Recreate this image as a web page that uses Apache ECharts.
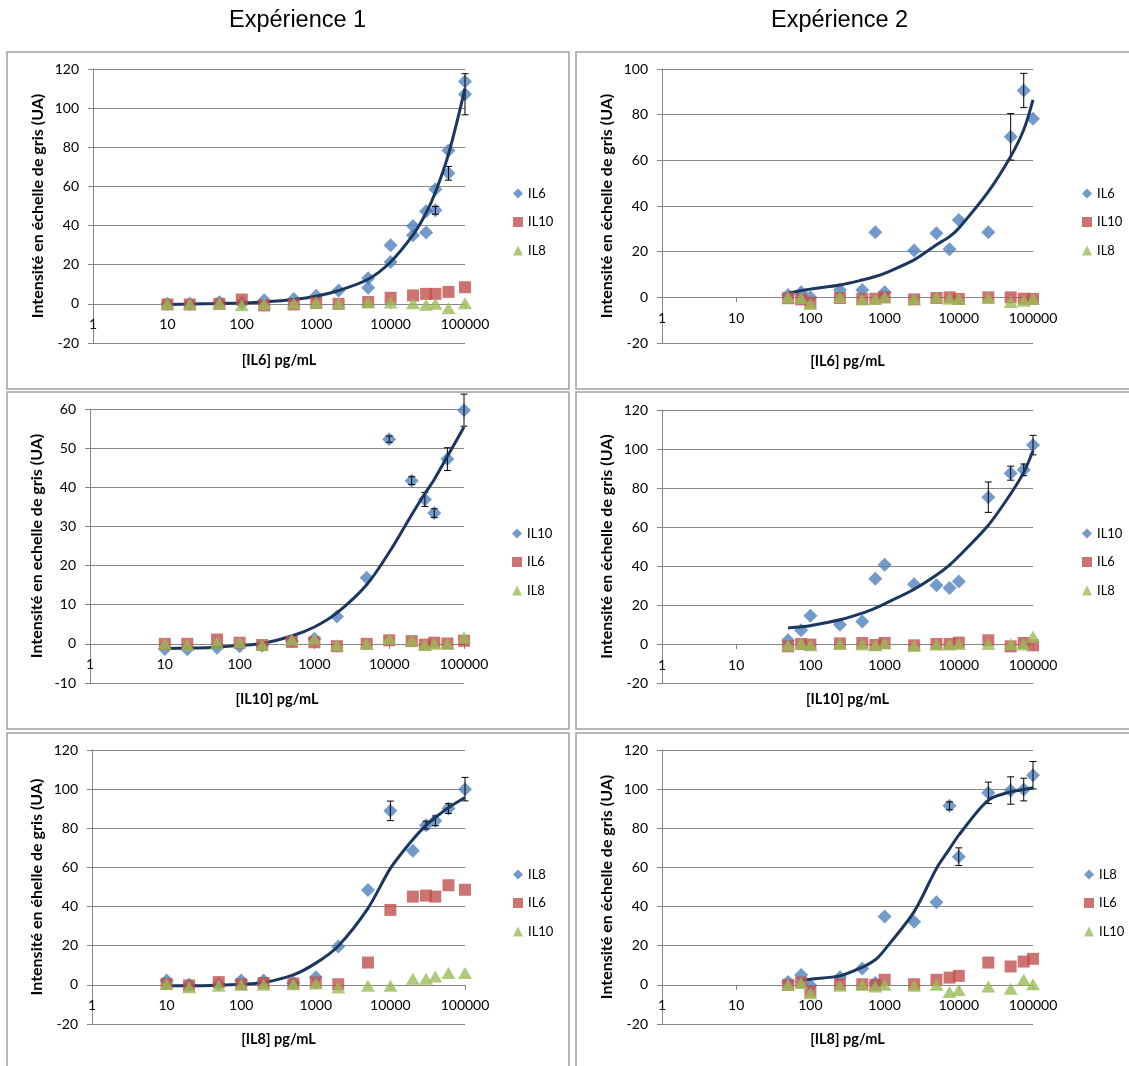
<!DOCTYPE html>
<html>
<head>
<meta charset="utf-8">
<script src="https://cdn.jsdelivr.net/npm/echarts@6/dist/echarts.min.js"></script>
<style>
  html, body { margin: 0; padding: 0; background: #fff; }
  #chart { width: 1129px; height: 1066px; }
</style>
</head>
<body>
<div id="chart"></div>
<script>
// valeurs (concentrations en pg/mL)
const xTickLabels = ['1', '10', '100', '1000', '10000', '100000'];
const conc1 = [10, 20, 50, 100, 200, 500, 1000, 2000, 5000, 10000, 20000, 30000, 40000, 60000, 100000];
const conc2 = [50, 75, 100, 250, 500, 750, 1000, 2500, 5000, 7500, 10000, 25000, 50000, 75000, 100000];

// Expérience 1 - IL6
const e1IL6Names = ['IL6', 'IL10', 'IL8'];
const e1IL6Blue = [0, 0, 0.8, 0.5, 1.9, 2.5, 4.2, 6.8, 13.1, 29.9, 39.8, 47.3, 58.5, 78.4, 113.6];
const e1IL6BlueRep = [null, null, null, null, null, null, null, null, 8.2, 21.4, 35.0, 36.4, 47.8, 66.7, 107.1];
const e1IL6Red = [-0.3, -0.3, 0, 2.2, -0.8, -0.3, 0.5, 0, 1.0, 3.1, 4.3, 5.1, 5.1, 6.1, 8.5];
const e1IL6Green = [0, 0, 0.3, -0.7, 0, 0.3, 0.7, 0.3, 0.7, 0.7, 0.3, -0.5, 0, -2.2, 0.3];
const e1IL6Fit = [-0.3, -0.1, 0.2, 0.5, 1.0, 2.2, 3.9, 6.8, 12.6, 21.4, 35.2, 46.4, 57, 76.5, 110];
const e1IL6Err = [[40000, 47.8, 2], [60000, 66.7, 3.5], [100000, 107.1, 10.5]];

// Expérience 2 - IL6
const e2IL6Names = ['IL6', 'IL10', 'IL8'];
const e2IL6Blue = [1, 2.2, 0, 3.2, 3.2, 28.5, 2.2, 20.5, 28.1, 21.1, 33.9, 28.5, 70.3, 90.6, 78.2];
const e2IL6Red = [-0.4, -0.9, -2.3, -0.3, -0.7, -0.6, 0, -0.9, -0.3, 0, -0.7, 0, 0, -0.6, -0.7];
const e2IL6Green = [0, -0.3, -2.9, 0, -0.9, -0.6, 0, -0.6, -0.1, -0.6, -0.7, -0.3, -2.0, -1.5, -0.6];
const e2IL6Fit = [1.8, 2.9, 3.6, 5.4, 7.6, 9.1, 10.5, 16.4, 23, 26.6, 30.3, 46.3, 61.7, 73.4, 86.5];
const e2IL6Err = [[50000, 70.3, 10.2], [75000, 90.6, 7.5]];

// Expérience 1 - IL10
const e1IL10Names = ['IL10', 'IL6', 'IL8'];
const e1IL10Blue = [-1.3, -1.4, -1.0, -0.6, -0.5, 0.7, 1.3, 7.0, 16.9, 52.3, 41.7, 36.9, 33.4, 47.2, 59.7];
const e1IL10Red = [0, 0, 1.1, 0.3, -0.3, 0.5, 0.4, -0.6, 0, 0.9, 0.7, -0.2, 0.3, 0.1, 0.8];
const e1IL10Green = [0, -0.3, 0.2, 0.4, -0.2, 1.1, 1.3, -0.3, 0, 1.3, 0.8, -0.3, 0, 0, 1.7];
const e1IL10Fit = [-1.2, -1.1, -0.85, -0.4, 0.1, 2.0, 4.3, 7.9, 15.1, 23.4, 33.0, 38.4, 42.0, 47.9, 55.4];
const e1IL10Err = [[10000, 52.3, 0.8], [20000, 41.7, 1.0], [30000, 36.9, 1.8], [40000, 33.4, 1.1], [60000, 47.2, 2.9], [100000, 59.7, 4.1]];

// Expérience 2 - IL10
const e2IL10Names = ['IL10', 'IL6', 'IL8'];
const e2IL10Blue = [1.9, 7.0, 14.5, 9.9, 11.6, 33.5, 40.6, 30.6, 30.1, 28.7, 32.0, 75.3, 87.6, 89.3, 102];
const e2IL10Red = [-1.2, 0, -0.3, 0.3, 0.5, -0.5, 0.5, -0.7, 0, 0, 0.7, 1.9, -1.2, 0.5, -0.7];
const e2IL10Green = [-0.7, 0.3, -0.7, 0, -0.3, -0.7, 0.3, -0.9, -0.3, -0.3, 0, 0, 0, -0.3, 3.9];
const e2IL10Fit = [8.2, 8.8, 9.4, 12.4, 15.8, 18.4, 20.6, 28.1, 35.4, 40.5, 45, 60.9, 77, 88, 99.1];
const e2IL10Err = [[25000, 75.3, 7.8], [50000, 87.6, 3.6], [75000, 89.3, 3.0], [100000, 102, 5.0]];

// Expérience 1 - IL8
const e1IL8Names = ['IL8', 'IL6', 'IL10'];
const e1IL8Blue = [2.2, 0, 0.3, 2.2, 2.2, 0.9, 3.9, 19.6, 48.5, 88.9, 68.5, 81.6, 83.8, 90.1, 100];
const e1IL8Red = [0.5, -0.3, 1.4, 0.3, 0.9, 0.7, 1.2, 0.3, 11.4, 38.3, 45.1, 45.6, 45.1, 50.9, 48.6];
const e1IL8Green = [0.5, -1.2, -0.5, 0, 0, 0.3, 0.7, -1.4, -0.5, -0.5, 3.1, 3.1, 4.3, 6.0, 6.0];
const e1IL8Fit = [-0.5, -0.5, -0.2, 0.3, 1.2, 5.1, 11.1, 19.9, 39.1, 59.5, 74.3, 81.5, 85.5, 90.5, 95.7];
const e1IL8Err = [[10000, 88.9, 5], [30000, 81.6, 2], [40000, 83.8, 2.5], [60000, 90.1, 2.5], [100000, 100, 6]];

// Expérience 2 - IL8
const e2IL8Names = ['IL8', 'IL6', 'IL10'];
const e2IL8Blue = [1.4, 5.1, -0.3, 3.9, 8.3, 0.9, 34.9, 32.3, 42.2, 91.5, 65.5, 98.1, 99.3, 99.8, 107.1];
const e2IL8Red = [0, 1.2, -3.4, 0.3, 0.3, 0, 2.6, 0.3, 2.6, 3.7, 4.6, 11.4, 9.4, 11.9, 13.3];
const e2IL8Green = [0, 0.9, -4.3, -0.5, 0, -0.9, 0, -0.5, 0, -3.7, -2.6, -0.9, -2.0, 2.6, 0.3];
const e2IL8Fit = [null, 2.2, 2.9, 4.6, 9.0, 12.8, 17.9, 37.4, 59.5, 69.5, 76.5, 94.4, 98.6, 99.8, 100.7];
const e2IL8Err = [[7500, 91.5, 2], [10000, 65.5, 4.5], [25000, 98.1, 5.5], [50000, 99.3, 7], [75000, 99.8, 5.8], [100000, 107.1, 7]];

const panels = [
  { conc: conc1, names: e1IL6Names, blue: e1IL6Blue, blueRep: e1IL6BlueRep, red: e1IL6Red, green: e1IL6Green, fit: e1IL6Fit, err: e1IL6Err,
    yRange: [-20, 120, 20], yTitle: 'Intensité en échelle de gris (UA)', xTitle: '[IL6] pg/mL' },
  { conc: conc2, names: e2IL6Names, blue: e2IL6Blue, red: e2IL6Red, green: e2IL6Green, fit: e2IL6Fit, err: e2IL6Err,
    yRange: [-20, 100, 20], yTitle: 'Intensité en échelle de gris (UA)', xTitle: '[IL6] pg/mL' },
  { conc: conc1, names: e1IL10Names, blue: e1IL10Blue, red: e1IL10Red, green: e1IL10Green, fit: e1IL10Fit, err: e1IL10Err,
    yRange: [-10, 60, 10], yTitle: 'Intensité en echelle de gris (UA)', xTitle: '[IL10] pg/mL' },
  { conc: conc2, names: e2IL10Names, blue: e2IL10Blue, red: e2IL10Red, green: e2IL10Green, fit: e2IL10Fit, err: e2IL10Err,
    yRange: [-20, 120, 20], yTitle: 'Intensité en échelle de gris (UA)', xTitle: '[IL10] pg/mL' },
  { conc: conc1, names: e1IL8Names, blue: e1IL8Blue, red: e1IL8Red, green: e1IL8Green, fit: e1IL8Fit, err: e1IL8Err,
    yRange: [-20, 120, 20], yTitle: 'Intensité en éhelle de gris (UA)', xTitle: '[IL8] pg/mL' },
  { conc: conc2, names: e2IL8Names, blue: e2IL8Blue, red: e2IL8Red, green: e2IL8Green, fit: e2IL8Fit, err: e2IL8Err,
    yRange: [-20, 120, 20], yTitle: 'Intensité en échelle de gris (UA)', xTitle: '[IL8] pg/mL' }
];

// mise en page de chaque cadre
const layout = [
  { grid: { left: 93, top: 69, width: 372, height: 274 }, box: [7, 52, 562, 337], legend: [508, 182], xGap: 49, yGap: 47 },
  { grid: { left: 662, top: 69, width: 371, height: 274 }, box: [576, 52, 570, 337], legend: [1077, 182], xGap: 56, yGap: 47 },
  { grid: { left: 90, top: 409, width: 374, height: 274 }, box: [7, 392, 562, 337], legend: [507, 522], xGap: 48, yGap: 45 },
  { grid: { left: 662, top: 410, width: 371, height: 273 }, box: [576, 392, 570, 337], legend: [1077, 522], xGap: 48, yGap: 47 },
  { grid: { left: 92, top: 750, width: 373, height: 274 }, box: [7, 733, 562, 345], legend: [508, 863], xGap: 47, yGap: 47 },
  { grid: { left: 662, top: 750, width: 371, height: 274 }, box: [576, 733, 570, 345], legend: [1079, 863], xGap: 47, yGap: 47 }
];

const BLUE = '#4F81BD', RED = '#C0504D', GREEN = '#9BBB59', FIT = '#1B375E';
const FONT = 'Lato';

function pairs(xs, ys) {
  return xs.map((x, i) => [x, ys[i]]).filter(p => p[1] != null);
}

function renderErr(params, api) {
  const x = api.value(0), y = api.value(1), e = api.value(2);
  const top = api.coord([x, y + e]);
  const bot = api.coord([x, y - e]);
  const w = 3.5;
  const st = { stroke: '#000', lineWidth: 1 };
  return {
    type: 'group',
    children: [
      { type: 'line', shape: { x1: top[0], y1: top[1], x2: bot[0], y2: bot[1] }, style: st },
      { type: 'line', shape: { x1: top[0] - w, y1: top[1], x2: top[0] + w, y2: top[1] }, style: st },
      { type: 'line', shape: { x1: bot[0] - w, y1: bot[1], x2: bot[0] + w, y2: bot[1] }, style: st }
    ]
  };
}

const grids = [], xAxes = [], yAxes = [], legends = [], series = [], graphics = [];

panels.forEach((p, i) => {
  const L = layout[i];
  grids.push(L.grid);
  graphics.push({
    type: 'rect', shape: { x: L.box[0], y: L.box[1], width: L.box[2], height: L.box[3] },
    style: { fill: null, stroke: '#a0a0a0', lineWidth: 1.5 }, z: 0
  });
  // l'axe des x croise l'axe des y à 0 (comme dans Excel)
  const zeroOffset = -L.grid.height * (0 - p.yRange[0]) / (p.yRange[1] - p.yRange[0]);
  xAxes.push({
    type: 'log', logBase: 10, min: 1, max: 100000, gridIndex: i,
    position: 'bottom', offset: zeroOffset,
    name: p.xTitle, nameLocation: 'middle', nameGap: L.xGap,
    nameTextStyle: { fontFamily: FONT, fontWeight: 'bold', fontSize: 14.5, color: '#000' },
    axisLine: { onZero: false, lineStyle: { color: '#868686', width: 1 } },
    axisTick: { show: true, length: 5, lineStyle: { color: '#868686' } },
    axisLabel: {
      fontFamily: FONT, fontSize: 14, color: '#000', margin: 14,
      formatter: v => xTickLabels[Math.round(Math.log10(v))]
    },
    splitLine: { show: false },
    minorTick: { show: false }
  });
  yAxes.push({
    type: 'value', min: p.yRange[0], max: p.yRange[1], interval: p.yRange[2], gridIndex: i,
    name: p.yTitle, nameLocation: 'middle', nameGap: L.yGap,
    nameTextStyle: { fontFamily: FONT, fontWeight: 'bold', fontSize: 16, color: '#000' },
    axisLine: { show: true, onZero: false, lineStyle: { color: '#868686', width: 1 } },
    axisTick: { show: true, length: 5, lineStyle: { color: '#868686' } },
    axisLabel: { fontFamily: FONT, fontSize: 14, color: '#000', margin: 14 },
    splitLine: { show: true, lineStyle: { color: '#868686', width: 1 } }
  });
  legends.push({
    orient: 'vertical', left: L.legend[0], top: L.legend[1],
    itemWidth: 10, itemHeight: 10, itemGap: 15.5,
    textStyle: { fontFamily: FONT, fontSize: 13, color: '#000' },
    selectedMode: false,
    data: [
      { name: p.names[0], icon: 'diamond', itemStyle: { color: BLUE } },
      { name: p.names[1], icon: 'rect', itemStyle: { color: RED } },
      { name: p.names[2], icon: 'triangle', itemStyle: { color: GREEN } }
    ]
  });

  let blueData = pairs(p.conc, p.blue);
  if (p.blueRep) blueData = blueData.concat(pairs(p.conc, p.blueRep));

  series.push({
    type: 'scatter', name: p.names[0], xAxisIndex: i, yAxisIndex: i,
    symbol: 'diamond', symbolSize: 14, itemStyle: { color: BLUE }, z: 2,
    data: blueData
  });
  series.push({
    type: 'custom', name: 'err' + i, xAxisIndex: i, yAxisIndex: i, z: 3, silent: true,
    renderItem: renderErr, encode: { x: 0, y: 1 }, data: p.err
  });
  series.push({
    type: 'line', name: 'fit' + i, xAxisIndex: i, yAxisIndex: i, z: 4,
    smooth: 0.3, showSymbol: false, symbol: 'none',
    lineStyle: { color: FIT, width: 3 }, itemStyle: { color: FIT },
    data: pairs(p.conc, p.fit)
  });
  series.push({
    type: 'scatter', name: p.names[1], xAxisIndex: i, yAxisIndex: i,
    symbol: 'rect', symbolSize: 12, itemStyle: { color: RED }, z: 5,
    data: pairs(p.conc, p.red)
  });
  series.push({
    type: 'scatter', name: p.names[2], xAxisIndex: i, yAxisIndex: i,
    symbol: 'triangle', symbolSize: [14, 12], itemStyle: { color: GREEN }, z: 6,
    data: pairs(p.conc, p.green)
  });
});

graphics.push({
  type: 'text', left: 229, top: 9,
  style: { text: 'Expérience 1', font: '23.5px "Liberation Sans"', fill: '#000' }
});
graphics.push({
  type: 'text', left: 771, top: 9,
  style: { text: 'Expérience 2', font: '23.5px "Liberation Sans"', fill: '#000' }
});

const myChart = echarts.init(document.getElementById('chart'));
const option = {
  animation: false,
  backgroundColor: '#fff',
  grid: grids,
  xAxis: xAxes,
  yAxis: yAxes,
  legend: legends,
  series: series,
  graphic: graphics
};
myChart.setOption(option);
</script>
</body>
</html>
